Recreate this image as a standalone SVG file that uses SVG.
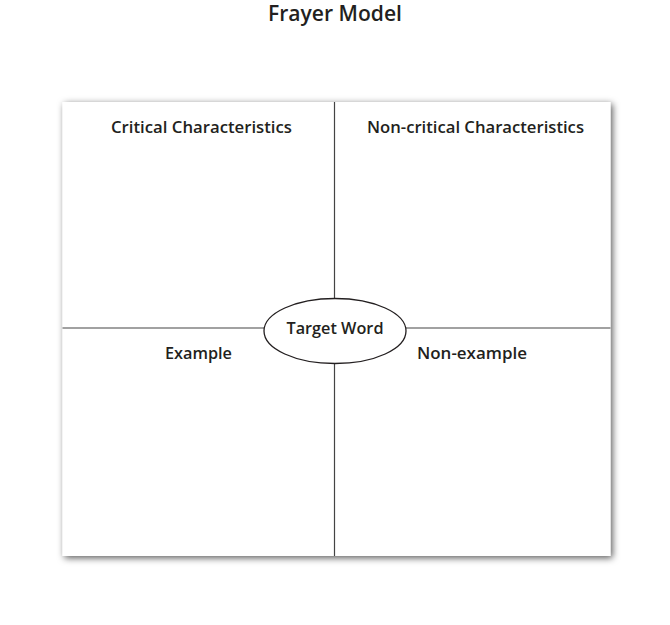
<svg xmlns="http://www.w3.org/2000/svg" width="670" height="625" viewBox="0 0 670 625">
<style>
.t{font-family:"Open Sans","Liberation Sans",sans-serif;font-weight:600;fill:#231f20;text-anchor:middle}
.lbl{font-size:16px}
.ln{stroke:#444;stroke-width:1.2;fill:none}
</style>
<defs>
<filter id="sh" x="-10%" y="-10%" width="120%" height="120%">
<feDropShadow dx="2" dy="2" stdDeviation="3.5" flood-color="#000" flood-opacity="0.65"/>
</filter>
</defs>
<rect width="670" height="625" fill="#fff"/>
<text class="t" x="335" y="21" font-size="21" textLength="134" lengthAdjust="spacingAndGlyphs">Frayer Model</text>
<g id="frame">
<rect x="62.5" y="102" width="548" height="454" fill="#fff" filter="url(#sh)"/>
</g>
<g id="connectors">
<line class="ln" x1="334.5" y1="102" x2="334.5" y2="299"/>
<line class="ln" x1="334.5" y1="364" x2="334.5" y2="556"/>
<line class="ln" x1="62.5" y1="328" x2="264.5" y2="328"/>
<line class="ln" x1="405.5" y1="328" x2="610.5" y2="328"/>
</g>
<g id="critical">
<text class="t lbl" x="201.5" y="133" textLength="181" lengthAdjust="spacingAndGlyphs">Critical Characteristics</text>
</g>
<g id="noncritical">
<text class="t lbl" x="475.5" y="133" textLength="217" lengthAdjust="spacingAndGlyphs">Non-critical Characteristics</text>
</g>
<g id="target">
<ellipse cx="335" cy="331" rx="71" ry="32.5" fill="#fff" stroke="#231f20" stroke-width="1.3"/>
<text class="t lbl" x="335" y="334" textLength="97" lengthAdjust="spacingAndGlyphs">Target Word</text>
</g>
<g id="example">
<text class="t lbl" x="198.5" y="359" textLength="67" lengthAdjust="spacingAndGlyphs">Example</text>
</g>
<g id="nonexample">
<text class="t lbl" x="472" y="359" textLength="110" lengthAdjust="spacingAndGlyphs">Non-example</text>
</g>
</svg>
